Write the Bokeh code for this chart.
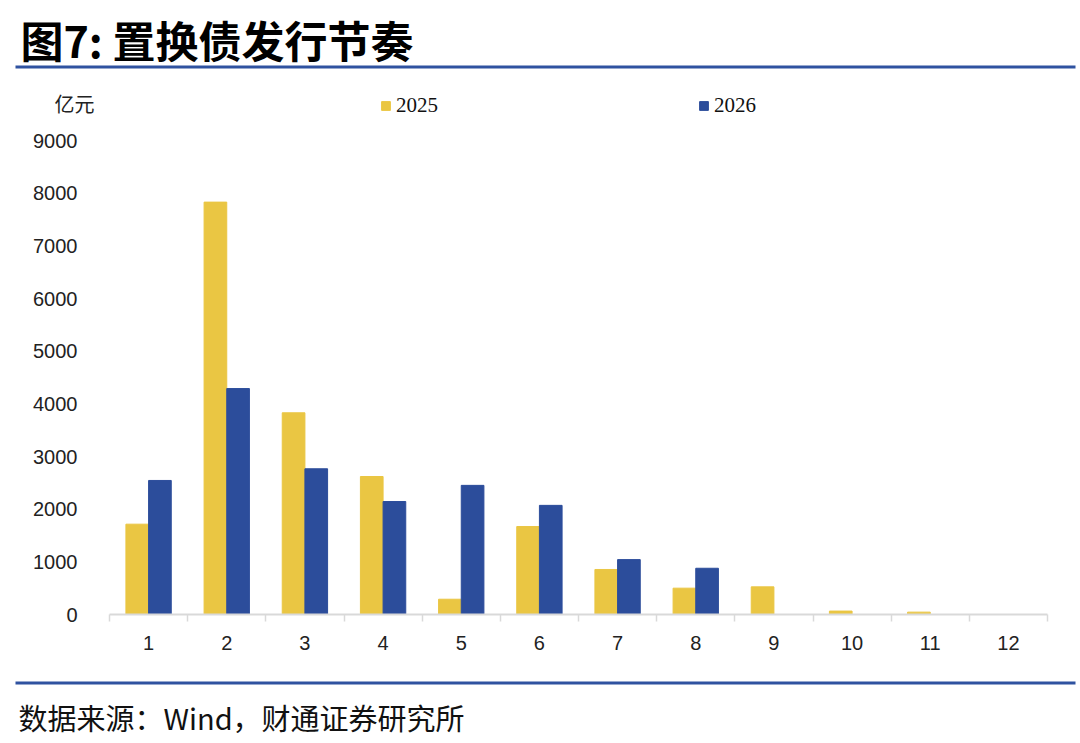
from bokeh.plotting import figure
from bokeh.models import (ColumnDataSource, Range1d, FixedTicker, Label, BoxAnnotation,
                          Legend, LegendItem)
from bokeh.transform import dodge
from bokeh.embed import file_html
from bokeh.resources import INLINE

# ---- data ----
months = [1, 2, 3, 4, 5, 6, 7, 8, 9, 10, 11, 12]
y2025 = [1715, 7830, 3830, 2620, 290, 1670, 855, 500, 525, 65, 45, 0]
y2026 = [2545, 4290, 2767, 2145, 2452, 2072, 1042, 878, 0, 0, 0, 0]
y_ticks = [0, 1000, 2000, 3000, 4000, 5000, 6000, 7000, 8000, 9000]
series_names = ["2025", "2026"]

title_text = "图7: 置换债发行节奏"
unit_text = "亿元"
source_text = "数据来源：Wind，财通证券研究所"

YELLOW = "#EAC643"
BLUE = "#2C4D9B"
RULE = "#2F52A0"

W = 1076
HEAD_H, MAIN_H, FOOT_H = 118, 547, 76
FRAME_L, FRAME_R = 109, 1047          # page px
Y9000_PX, Y0_PX = 140, 614            # page px of 9000 / 0
y_top = 9000 * (Y0_PX - HEAD_H) / (Y0_PX - Y9000_PX)

src = ColumnDataSource(dict(month=months, y2025=y2025, y2026=y2026))


def blank_fig(h):
    f = figure(width=W, height=h, output_backend="svg", toolbar_location=None,
               x_range=Range1d(0, W), y_range=Range1d(0, h),
               x_axis_type=None, y_axis_type=None,
               min_border=0, min_border_left=0, min_border_right=0,
               min_border_top=0, min_border_bottom=0)
    f.outline_line_color = None
    f.grid.grid_line_color = None
    f.background_fill_color = "white"
    f.border_fill_color = "white"
    return f


# ---------- header ----------
hd = blank_fig(HEAD_H)
hd.add_layout(Label(x=20, y=HEAD_H - 38, text=title_text, text_font="Noto Sans CJK SC",
                    text_font_style="bold", text_font_size="43px", text_color="#000000",
                    text_baseline="middle", text_align="left"))
hd.add_layout(BoxAnnotation(left=15, right=1075, top=HEAD_H - 65, bottom=HEAD_H - 68,
                            fill_color=RULE, fill_alpha=1, line_color=None))
hd.add_layout(Label(x=74, y=HEAD_H - 103, text=unit_text, text_font="Noto Sans CJK SC",
                    text_font_size="20px", text_color="#222222",
                    text_baseline="middle", text_align="center"))
# legend proxies (hidden renderers carrying the series styles)
lg1 = hd.vbar(x="month", top="y2025", width=0.3, source=src,
              fill_color=YELLOW, line_color=YELLOW, visible=False)
lg2 = hd.vbar(x="month", top="y2026", width=0.3, source=src,
              fill_color=BLUE, line_color=BLUE, visible=False)
legend = Legend(items=[LegendItem(label=series_names[0], renderers=[lg1]),
                       LegendItem(label=series_names[1], renderers=[lg2])],
                orientation="horizontal", location=(380, 0),
                glyph_width=11, glyph_height=11, label_standoff=5,
                label_height=16, spacing=260, padding=0, margin=0,
                border_line_color=None, background_fill_alpha=0,
                inactive_fill_alpha=0,
                label_text_font="Liberation Serif", label_text_font_size="21px",
                label_text_color="#111111")
hd.add_layout(legend, "center")

# ---------- main chart ----------
p = figure(width=W, height=MAIN_H, output_backend="svg", toolbar_location=None,
           x_range=Range1d(0.5, 12.5), y_range=Range1d(0, y_top),
           min_border_left=FRAME_L, min_border_right=W - FRAME_R,
           min_border_top=0, min_border_bottom=MAIN_H - (Y0_PX - HEAD_H))
p.outline_line_color = None
p.grid.grid_line_color = None
p.background_fill_color = "white"
p.border_fill_color = "white"

bw = 0.29
p.vbar(x=dodge("month", -bw / 2, range=p.x_range), top="y2025", width=bw,
       source=src, fill_color=YELLOW, line_color=YELLOW)
p.vbar(x=dodge("month", bw / 2, range=p.x_range), top="y2026", width=bw,
       source=src, fill_color=BLUE, line_color=BLUE)

xa = p.xaxis[0]
xa.ticker = FixedTicker(ticks=months, minor_ticks=[m - 0.5 for m in months] + [12.5])
xa.axis_line_color = "#D9D9D9"
xa.axis_line_width = 2
xa.major_tick_line_color = None
xa.major_tick_out = 0
xa.major_tick_in = 0
xa.minor_tick_line_color = "#D9D9D9"
xa.minor_tick_line_width = 1.5
xa.minor_tick_out = 7
xa.minor_tick_in = 0
xa.major_label_standoff = 14
xa.major_label_text_font = "Liberation Sans"
xa.major_label_text_font_size = "20px"
xa.major_label_text_color = "#222222"

ya = p.yaxis[0]
ya.ticker = FixedTicker(ticks=y_ticks)
ya.axis_line_color = None
ya.major_tick_line_color = None
ya.minor_tick_line_color = None
ya.major_tick_out = 0
ya.major_tick_in = 0
ya.major_label_standoff = 32
ya.major_label_text_font = "Liberation Sans"
ya.major_label_text_font_size = "20px"
ya.major_label_text_color = "#222222"

# ---------- footer ----------
ft = blank_fig(FOOT_H)
ft.add_layout(BoxAnnotation(left=15, right=1075, top=FOOT_H - 16, bottom=FOOT_H - 19,
                            fill_color=RULE, fill_alpha=1, line_color=None))
ft.add_layout(Label(x=18, y=FOOT_H - 51, text=source_text, text_font="Noto Sans CJK SC",
                    text_font_size="29px", text_color="#111111",
                    text_baseline="middle", text_align="left"))

# separate roots so the three canvases are not frame-aligned with each other
open("out.html", "w").write(file_html([hd, p, ft], INLINE))
